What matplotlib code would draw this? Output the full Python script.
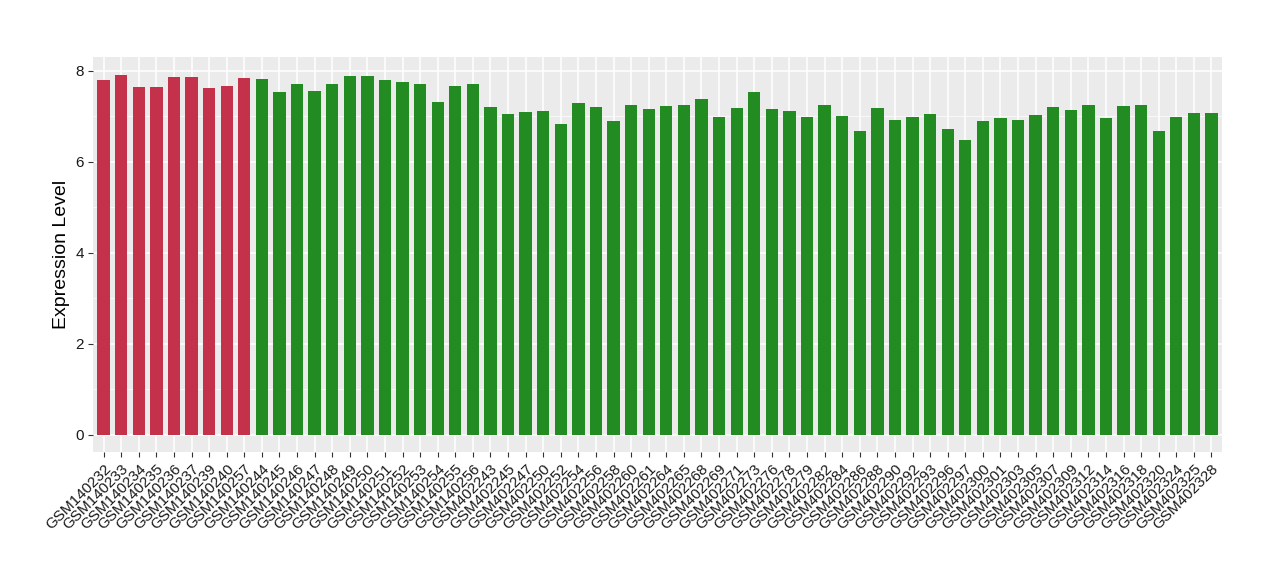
import matplotlib
matplotlib.use("Agg")
import matplotlib.pyplot as plt
import numpy as np

plt.rcParams["font.family"] = ["Liberation Sans", "DejaVu Sans"]

samples_red = ["GSM140232", "GSM140233", "GSM140234", "GSM140235", "GSM140236",
               "GSM140237", "GSM140239", "GSM140240", "GSM140257"]
values_red = [7.80, 7.91, 7.64, 7.64, 7.86, 7.86, 7.62, 7.66, 7.84]

samples_green = ["GSM140244", "GSM140245", "GSM140246", "GSM140247", "GSM140248",
                 "GSM140249", "GSM140250", "GSM140251", "GSM140252", "GSM140253",
                 "GSM140254", "GSM140255", "GSM140256",
                 "GSM402243", "GSM402245", "GSM402247", "GSM402250", "GSM402252",
                 "GSM402254", "GSM402256", "GSM402258", "GSM402260", "GSM402261",
                 "GSM402264", "GSM402265", "GSM402268", "GSM402269", "GSM402271",
                 "GSM402273", "GSM402276", "GSM402278", "GSM402279", "GSM402282",
                 "GSM402284", "GSM402286", "GSM402288", "GSM402290", "GSM402292",
                 "GSM402293", "GSM402296", "GSM402297", "GSM402300", "GSM402301",
                 "GSM402303", "GSM402305", "GSM402307", "GSM402309", "GSM402312",
                 "GSM402314", "GSM402316", "GSM402318", "GSM402320", "GSM402324",
                 "GSM402325", "GSM402328"]
values_green = [7.82, 7.53, 7.71, 7.55, 7.71, 7.88, 7.88, 7.80, 7.75, 7.71,
                7.31, 7.66, 7.71,
                7.20, 7.05, 7.09, 7.11, 6.83, 7.29, 7.20, 6.89, 7.25, 7.16,
                7.22, 7.25, 7.38, 6.98, 7.18, 7.53, 7.16, 7.11, 6.98, 7.25,
                7.00, 6.67, 7.18, 6.92, 6.98, 7.05, 6.72, 6.48, 6.89, 6.96,
                6.92, 7.03, 7.20, 7.14, 7.25, 6.96, 7.22, 7.25, 6.67, 6.98,
                7.07, 7.07]

samples = samples_red + samples_green
values = values_red + values_green
colors = ["#C3314A"] * len(samples_red) + ["#228B22"] * len(samples_green)

fig = plt.figure(figsize=(12.8, 5.8), dpi=100)
ax = fig.add_axes([0.0727, 0.2207, 0.8820, 0.6810])
ax.set_facecolor("#EBEBEB")

x = np.arange(len(samples))
ax.bar(x, values, width=0.7, color=colors, zorder=3)

ax.set_xlim(-0.6, len(samples) - 0.4)
ax.set_ylim(-0.38, 8.30)
ax.set_yticks([0, 2, 4, 6, 8])
ax.set_yticks([1, 3, 5, 7], minor=True)
ax.set_xticks(x)
ax.set_xticklabels(samples, rotation=45, ha="right", rotation_mode="anchor",
                   fontsize=11, color="#1a1a1a")
ax.tick_params(axis="y", labelsize=11, labelcolor="#1a1a1a", pad=3)
ax.tick_params(axis="both", which="major", color="#333333", length=3.5, width=0.8)
ax.tick_params(axis="y", which="minor", length=0)

ax.grid(True, which="major", color="white", linewidth=1.1, zorder=0)
ax.grid(True, which="minor", axis="y", color="white", linewidth=0.5, zorder=0)
ax.set_axisbelow(True)
for s in ax.spines.values():
    s.set_visible(False)

ax.set_ylabel("Expression Level", fontsize=14, labelpad=4)

fig.savefig("out.png", dpi=100)
